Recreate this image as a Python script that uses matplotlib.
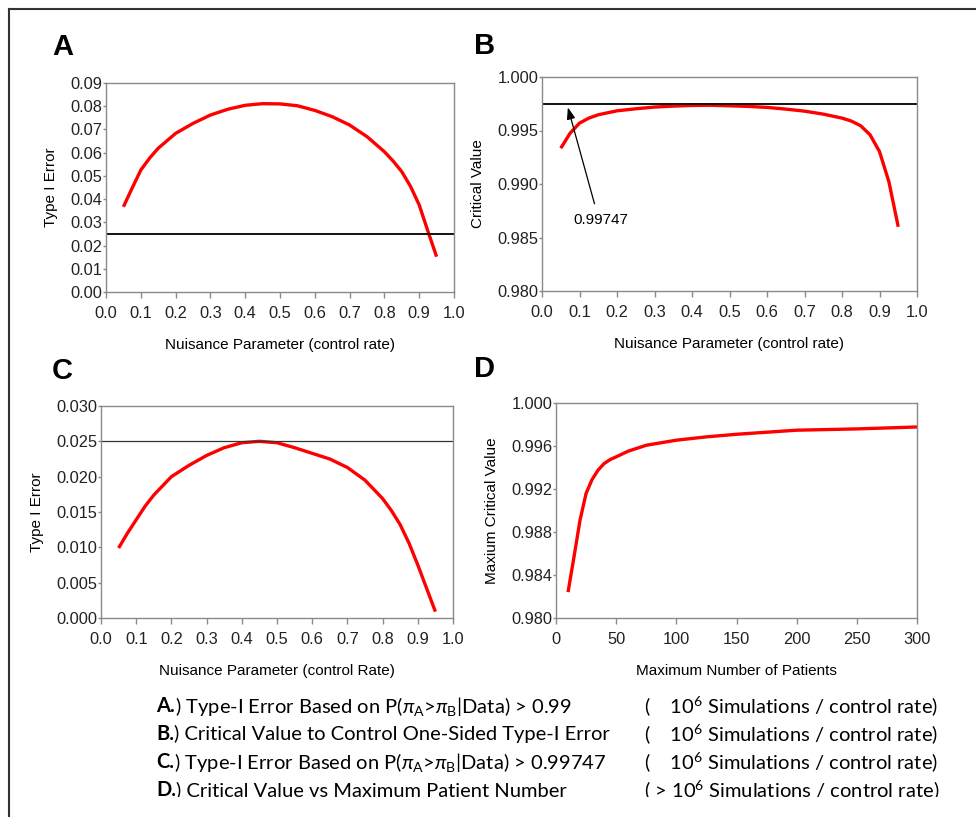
import matplotlib
matplotlib.use("Agg")
import matplotlib.pyplot as plt
from matplotlib.patches import Rectangle
from matplotlib.lines import Line2D

# nuisance parameter (control rate) grid used in panels A-C
rate = [0.05, 0.075, 0.10, 0.125, 0.15, 0.20, 0.25, 0.30, 0.35, 0.40, 0.45, 0.50,
        0.55, 0.60, 0.65, 0.70, 0.75, 0.80, 0.825, 0.85, 0.875, 0.90, 0.925, 0.95]

# A: type I error for P(piA > piB | data) > 0.99
err_a = [0.0367, 0.0447, 0.0525, 0.0576, 0.0619, 0.0683, 0.0726, 0.0762, 0.0787, 0.0804, 0.0811, 0.0810,
         0.0802, 0.0782, 0.0755, 0.0719, 0.0669, 0.0604, 0.0564, 0.0518, 0.0455, 0.0375, 0.0262, 0.0152]

# B: critical value controlling one-sided type I error
crit_b = [0.99334, 0.99475, 0.99569, 0.99616, 0.99647, 0.99684, 0.99703, 0.99719, 0.99728, 0.99734, 0.99736, 0.99731,
          0.99725, 0.99716, 0.99700, 0.99681, 0.99653, 0.99616, 0.99588, 0.99544, 0.99459, 0.99303, 0.99022, 0.98600]

# C: type I error for P(piA > piB | data) > 0.99747
err_c = [0.0099, 0.0120, 0.0139, 0.0158, 0.0174, 0.0200, 0.0216, 0.0230, 0.0241, 0.0248, 0.0250, 0.0248,
         0.0241, 0.0233, 0.0225, 0.0213, 0.0195, 0.0169, 0.0152, 0.0132, 0.0106, 0.0075, 0.0042, 0.0009]

# D: maximum critical value vs maximum number of patients
n_pat = [10, 15, 20, 25, 30, 35, 40, 45, 50, 60, 75, 100, 125, 150, 175, 200, 250, 300]
crit_d = [0.98241, 0.98572, 0.98912, 0.99159, 0.99289, 0.99376, 0.99437, 0.99474, 0.99499, 0.99552,
          0.99607, 0.99654, 0.99685, 0.99709, 0.99728, 0.99747, 0.99759, 0.99777]

alpha = 0.025
cutoff = 0.99747

captions = [
    ("A.", r") Type-I Error Based on P($\pi_{\mathrm{A}}$>$\pi_{\mathrm{B}}$|Data) > 0.99", r"(    $10^{6}$ Simulations / control rate)"),
    ("B.", ") Critical Value to Control One-Sided Type-I Error", r"(    $10^{6}$ Simulations / control rate)"),
    ("C.", r") Type-I Error Based on P($\pi_{\mathrm{A}}$>$\pi_{\mathrm{B}}$|Data) > 0.99747", r"(    $10^{6}$ Simulations / control rate)"),
    ("D.", ") Critical Value vs Maximum Patient Number", r"( > $10^{6}$ Simulations / control rate)"),
]

plt.rcParams["font.family"] = ["Liberation Sans", "DejaVu Sans"]
plt.rcParams["mathtext.fontset"] = "custom"
plt.rcParams["mathtext.rm"] = "Lato"
plt.rcParams["mathtext.it"] = "Lato:italic"
plt.rcParams["mathtext.bf"] = "Lato:bold"

W, H = 976, 817
fig = plt.figure(figsize=(W / 100, H / 100), dpi=100)


def box(x0, y0, x1, y1):
    # pixel box (top-left origin) -> figure fraction
    return [x0 / W, 1 - y1 / H, (x1 - x0) / W, (y1 - y0) / H]


def style(ax, xt, yt, yfmt, xfmt):
    for s in ax.spines.values():
        s.set_color("#8a8a8a")
        s.set_linewidth(1.0)
    ax.set_xticks(xt)
    ax.set_yticks(yt)
    ax.set_xticklabels([xfmt.format(v) for v in xt])
    ax.set_yticklabels([yfmt.format(v) for v in yt])
    ax.tick_params(axis="x", length=4, width=1, color="#8a8a8a", pad=6, labelsize=11.8, labelcolor="#222222")
    ax.tick_params(axis="y", length=2, width=1, color="#8a8a8a", pad=0.5, labelsize=11.8, labelcolor="#222222")
    ax.set_xlim(xt[0], xt[-1])
    ax.set_ylim(yt[0], yt[-1])


red = "#ff0000"
line_kw = dict(color=red, lw=2.4, solid_joinstyle="round", solid_capstyle="butt")
xt = [round(0.1 * i, 1) for i in range(11)]

# panel A
axA = fig.add_axes(box(106, 83, 454, 292))
axA.plot(rate, err_a, **line_kw)
axA.axhline(alpha, color="black", lw=1.3)
style(axA, xt, [round(0.01 * i, 2) for i in range(10)], "{:.2f}", "{:.1f}")
axA.set_ylabel("Type I Error", fontsize=11, labelpad=9)
axA.set_xlabel("Nuisance Parameter (control rate)", fontsize=11, labelpad=12)

# panel B
axB = fig.add_axes(box(542, 77, 917, 291))
axB.plot(rate, crit_b, **line_kw)
axB.axhline(cutoff, color="black", lw=1.3)
style(axB, xt, [round(0.98 + 0.005 * i, 3) for i in range(5)], "{:.3f}", "{:.1f}")
axB.set_ylabel("Critical Value", fontsize=11, labelpad=9)
axB.set_xlabel("Nuisance Parameter (control rate)", fontsize=11, labelpad=12)
axB.annotate("", xy=(0.067, 0.99741), xytext=(0.142, 0.98790),
             arrowprops=dict(arrowstyle="-|>,head_length=0.7,head_width=0.25", color="black", lw=0.9))
axB.text(0.158, 0.98663, "%.5f" % cutoff, ha="center", va="center", fontsize=11)

# panel C
axC = fig.add_axes(box(101, 406, 453, 618))
axC.plot(rate, err_c, **line_kw)
axC.axhline(alpha, color="#333333", lw=0.9)
style(axC, xt, [round(0.005 * i, 3) for i in range(7)], "{:.3f}", "{:.1f}")
axC.set_ylabel("Type I Error", fontsize=11, labelpad=9)
axC.set_xlabel("Nuisance Parameter (control Rate)", fontsize=11, labelpad=12)

# panel D
axD = fig.add_axes(box(556, 403, 917, 618))
axD.plot(n_pat, crit_d, **line_kw)
style(axD, list(range(0, 301, 50)), [round(0.98 + 0.004 * i, 3) for i in range(6)], "{:.3f}", "{}")
axD.set_ylabel("Maxium Critical Value", fontsize=11, labelpad=9)
axD.set_xlabel("Maximum Number of Patients", fontsize=11, labelpad=12)

# panel letters
for lab, (px, py) in zip("ABCD", [(52, 47), (474, 46), (52, 371), (474, 369)]):
    fig.text(px / W, 1 - py / H, lab, fontsize=21, fontweight="bold", ha="left", va="center")

# caption rows
fig.canvas.draw()
rend = fig.canvas.get_renderer()
rows_y = [706, 734, 762, 790]
for (head, body, sims), py in zip(captions, rows_y):
    t = fig.text(156 / W, 1 - py / H, head, fontsize=14.5, fontweight="bold",
                 family="Lato", ha="left", va="center")
    bb = t.get_window_extent(rend)
    fig.text(bb.x1 / W, 1 - py / H, body, fontsize=14.5, family="Lato", ha="left", va="center")
    fig.text(644 / W, 1 - py / H, sims, fontsize=14.5, family="Lato", ha="left", va="center")

# bottom of the last caption row is cut off in the source image
fig.patches.append(Rectangle((12 / W, 0), 1, 20 / H, transform=fig.transFigure,
                             facecolor="white", edgecolor="none", zorder=50))

# outer frame (top and left edges only are visible)
fig.add_artist(Line2D([9 / W, 1], [1 - 9 / H, 1 - 9 / H], transform=fig.transFigure, color="#333333", lw=1.5))
fig.add_artist(Line2D([9 / W, 9 / W], [0, 1 - 9 / H], transform=fig.transFigure, color="#333333", lw=1.5))

fig.savefig("out.png", dpi=100)
